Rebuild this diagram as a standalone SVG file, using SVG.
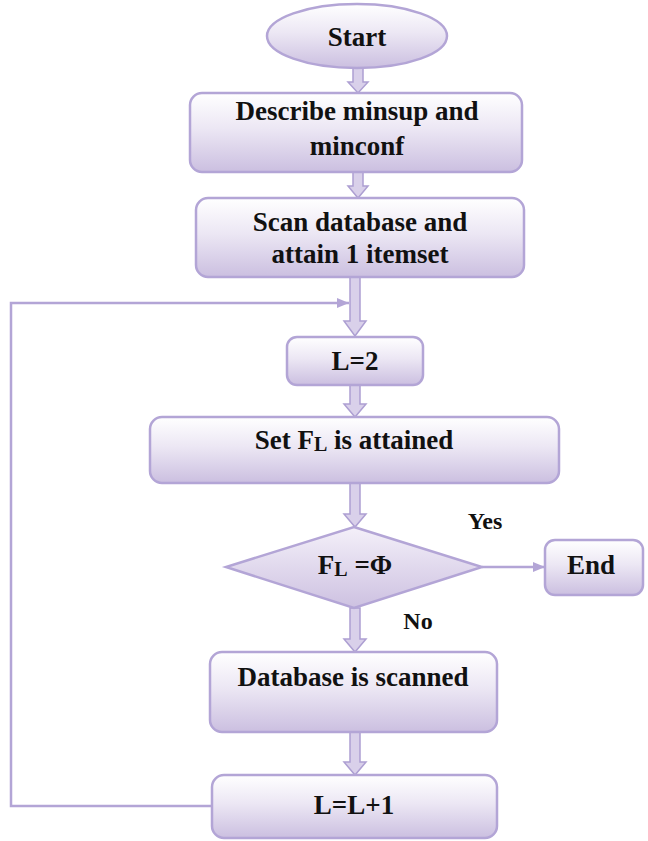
<svg xmlns="http://www.w3.org/2000/svg" width="648" height="841" viewBox="0 0 648 841">
<defs>
<linearGradient id="g" x1="0" y1="0" x2="0" y2="1">
<stop offset="0" stop-color="#ffffff"/>
<stop offset="0.45" stop-color="#ece7f4"/>
<stop offset="1" stop-color="#cbbfe0"/>
</linearGradient>
<linearGradient id="gd" x1="0" y1="0" x2="0" y2="1">
<stop offset="0" stop-color="#f4f0f9"/>
<stop offset="1" stop-color="#cdc1e1"/>
</linearGradient>
<marker id="ah" viewBox="0 0 12 10" refX="12" refY="5" markerWidth="12" markerHeight="10" markerUnits="userSpaceOnUse" orient="auto">
<path d="M0 0 L12 5 L0 10 Z" fill="#b3a5d6"/>
</marker>
<style>
.box{fill:url(#g);stroke:#b3a5d6;stroke-width:2.5}
.dia{fill:url(#gd);stroke:#b3a5d6;stroke-width:2.5}
.blk{fill:#d9d0ea;stroke:#ad9fd2;stroke-width:1.5}
.ln{fill:none;stroke:#b3a5d6;stroke-width:2.5}
text{font-family:"Liberation Serif","Times New Roman",serif;font-weight:bold;font-size:27px;fill:#111;text-anchor:middle}
.sm{font-size:24px}
.sub{font-size:20px}
</style>
</defs>

<g id="connectors">
<path class="blk" d="M353 68 H363 V82 H368 L358 93 L348 82 H353 Z"/>
<path class="blk" d="M353 172 H363 V186 H368 L358 198 L348 186 H353 Z"/>
<path class="blk" d="M350 277 H360 V321 H366 L355 336 L344 321 H350 Z"/>
<path class="blk" d="M350 385 H360 V404 H366 L355 417 L344 404 H350 Z"/>
<path class="blk" d="M350 483 H360 V514 H366 L355 527 L344 514 H350 Z"/>
<path class="blk" d="M350 608 H360 V639 H366 L355 652 L344 639 H350 Z"/>
<path class="blk" d="M350 732 H360 V762 H366 L355 775 L344 762 H350 Z"/>
<path class="ln" d="M212 806 H11 V303 H349" marker-end="url(#ah)"/>
<path class="ln" d="M482 567 H545" marker-end="url(#ah)"/>
<text class="sm" x="485" y="529">Yes</text>
<text class="sm" x="418" y="629">No</text>
</g>

<g id="start">
<ellipse class="box" cx="357" cy="36" rx="90" ry="32"/>
<text x="357" y="46">Start</text>
</g>

<g id="describe">
<rect class="box" x="190" y="93" width="332" height="79" rx="12"/>
<text x="357" y="120">Describe minsup and</text>
<text x="357" y="155">minconf</text>
</g>

<g id="scan">
<rect class="box" x="196" y="198" width="328" height="79" rx="12"/>
<text x="360" y="231">Scan database and</text>
<text x="360" y="263">attain 1 itemset</text>
</g>

<g id="l2">
<rect class="box" x="287" y="337" width="136" height="48" rx="10"/>
<text x="355" y="370">L=2</text>
</g>

<g id="setfl">
<rect class="box" x="150" y="417" width="409" height="66" rx="12"/>
<text x="354" y="449">Set F<tspan class="sub" dy="2">L</tspan><tspan dy="-2"> is attained</tspan></text>
</g>

<g id="decision">
<path class="dia" d="M354 527 L482 567 L354 608 L226 567 Z"/>
<text x="355" y="574">F<tspan class="sub" dy="2">L</tspan><tspan dy="-2"> =Φ</tspan></text>
</g>

<g id="end">
<rect class="box" x="545" y="540" width="98" height="55" rx="10"/>
<text x="591" y="574">End</text>
</g>

<g id="dbscan">
<rect class="box" x="210" y="652" width="287" height="80" rx="12"/>
<text x="353" y="686">Database is scanned</text>
</g>

<g id="linc">
<rect class="box" x="212" y="775" width="285" height="63" rx="12"/>
<text x="354" y="814">L=L+1</text>
</g>
</svg>
